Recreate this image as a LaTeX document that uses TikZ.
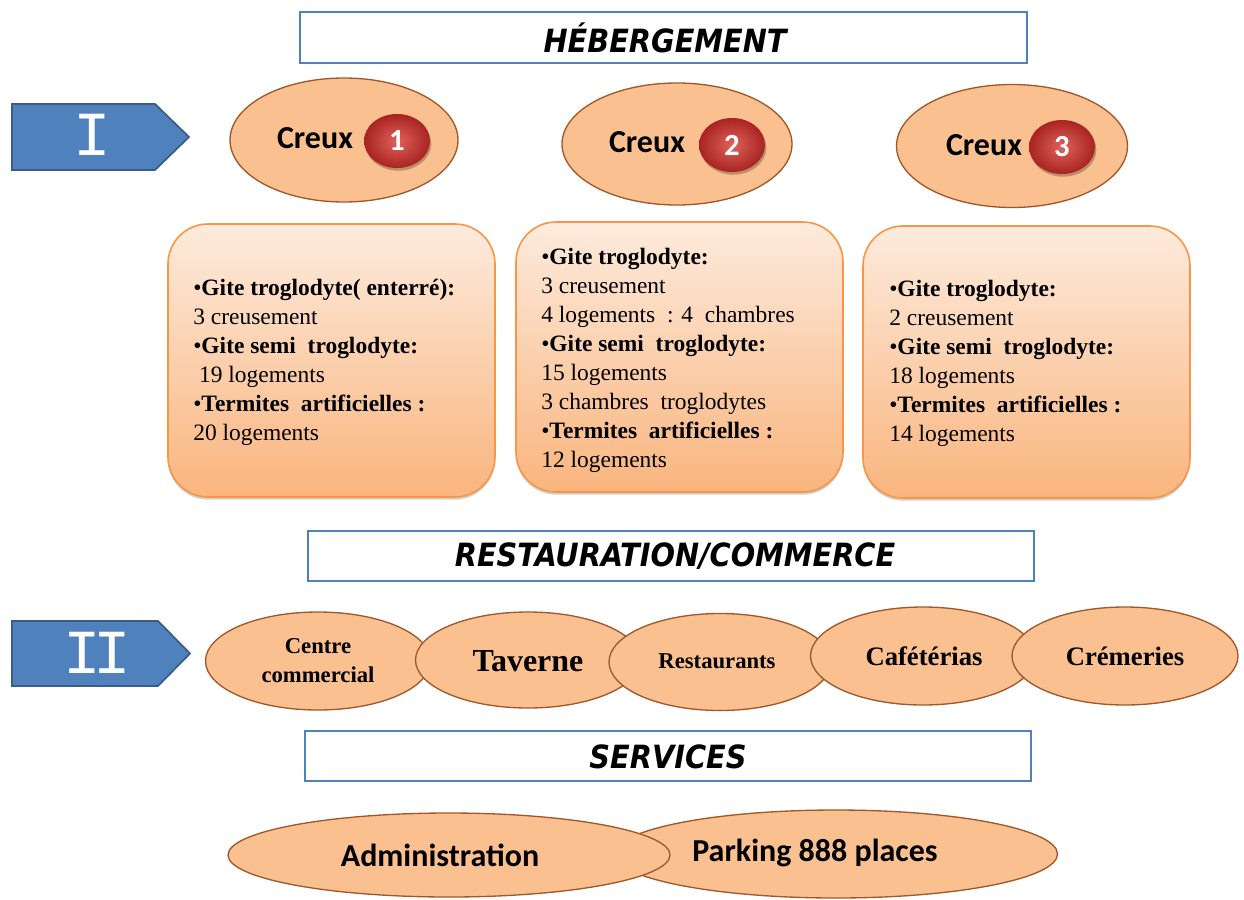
\documentclass[tikz,border=0pt]{standalone}
\usepackage{fontspec}
\setmainfont{Liberation Serif}
\newfontfamily\calib{Carlito}
\newfontfamily\headfont{DejaVu Sans Condensed}
\newfontfamily\romfont{Liberation Mono}
\usetikzlibrary{shapes.geometric,shadows}
\definecolor{hdrblue}{HTML}{4F81BD}
\definecolor{arrowedge}{HTML}{385D8A}
\definecolor{ellfill}{HTML}{FAC090}
\definecolor{elledge}{HTML}{A0582A}
\definecolor{boxtop}{HTML}{FDEBDD}
\definecolor{boxbot}{HTML}{F9B57E}
\definecolor{boxedge}{HTML}{F79646}
\definecolor{ballin}{HTML}{E0625A}
\definecolor{ballout}{HTML}{A82422}
\begin{document}
\begin{tikzpicture}[x=0.75pt,y=-0.75pt,
  sz/.style 2 args={minimum width={#1*0.75pt},minimum height={#2*0.75pt}},
  hdr/.style={draw=hdrblue,line width=1.8pt,fill=white,rectangle,inner sep=0pt},
  hdrtext/.style={font=\headfont\bfseries\itshape\fontsize{24}{28}\selectfont},
  arrowshape/.style={fill=hdrblue,draw=arrowedge,line width=1.3pt},
  romlabel/.style={text=white,font=\romfont\fontsize{47}{50}\selectfont,inner sep=0pt},
  ell/.style={ellipse,fill=ellfill,draw=elledge,line width=1pt,inner sep=0pt},
  infobox/.style={rectangle,rounded corners=30pt,top color=boxtop,bottom color=boxbot,draw=boxedge,line width=1.2pt,
    drop shadow={shadow xshift=0pt,shadow yshift=-2pt,opacity=0.18,fill=black}},
  infotext/.style={align=left,inner sep=0pt,anchor=west,font=\fontsize{17.6}{21.75}\selectfont},
  ball/.style={ellipse,inner color=ballin,outer color=ballout,inner sep=0pt,text=white,
    font=\calib\bfseries\fontsize{23}{24}\selectfont,
    drop shadow={shadow xshift=1pt,shadow yshift=-2pt,opacity=0.25,fill=black}},
  creux/.style={font=\calib\bfseries\fontsize{24}{26}\selectfont},
  cal/.style={font=\calib\bfseries\fontsize{24}{26}\selectfont},
  tnr/.style={font=\bfseries\fontsize{#1}{21.75}\selectfont,align=center},
]
\useasboundingbox (0,0) rectangle (1244,899);

% ---------- HEBERGEMENT ----------
\node[hdr,sz={727}{51}] (h1) at (663.5,37.5) {};
\node[hdrtext] (h1t) at (665,38) {HÉBERGEMENT};

\draw[arrowshape] (12,104) -- (155,104) -- (189,137) -- (155,170) -- (12,170) -- cycle;
\node[romlabel] (r1) at (92,135) {I};

\node[ell,sz={228}{124}] (c1) at (344,140) {};
\node[ell,sz={230}{122}] (c2) at (677,144) {};
\node[ell,sz={231}{123}] (c3) at (1012,146) {};
\node[creux] (c1t) at (315,138) {Creux};
\node[creux] (c2t) at (647,142) {Creux};
\node[creux] (c3t) at (984,145) {Creux};
\node[ball,sz={66}{54}] (b1) at (397,141) {1};
\node[ball,sz={66}{54}] (b2) at (732,145) {2};
\node[ball,sz={66}{54}] (b3) at (1062,147) {3};

\node[infobox,sz={327}{273}] (x1) at (331.5,360.5) {};
\node[infobox,sz={327}{270}] (x2) at (679.5,357) {};
\node[infobox,sz={327}{272}] (x3) at (1026.5,362) {};

\node[infotext] (x1t) at (193,362) {%
•\textbf{Gite troglodyte( enterré):}\\
3 creusement\\
•\textbf{Gite semi\ \ troglodyte:}\\
\ 19 logements\\
•\textbf{Termites\ \ artificielles :}\\
20 logements};
\node[infotext] (x2t) at (541,360) {%
•\textbf{Gite troglodyte:}\\
3 creusement\\
4 logements\ \ : 4\ \ chambres\\
•\textbf{Gite semi\ \ troglodyte:}\\
15 logements\\
3 chambres\ \ troglodytes\\
•\textbf{Termites\ \ artificielles :}\\
12 logements};
\node[infotext] (x3t) at (889,363) {%
•\textbf{Gite troglodyte:}\\
2 creusement\\
•\textbf{Gite semi\ \ troglodyte:}\\
18 logements\\
•\textbf{Termites\ \ artificielles :}\\
14 logements};

% ---------- RESTAURATION ----------
\node[hdr,sz={726}{50}] (h2) at (671,556) {};
\node[hdrtext] (h2t) at (675,556) {RESTAURATION/COMMERCE};

\draw[arrowshape] (12,621) -- (158,621) -- (190,653.5) -- (158,686) -- (12,686) -- cycle;
\node[romlabel] (r2) at (97,653) {I\kern-6pt I};

\node[ell,sz={225}{98}] (e1) at (318,661) {};
\node[tnr=17] (e1t) at (318,661) {Centre\\commercial};
\node[ell,sz={225}{96}] (e2) at (528,660) {};
\node[tnr=24] (e2t) at (528,661) {Taverne};
\node[ell,sz={222}{97}] (e3) at (720,662) {};
\node[tnr=17] (e3t) at (717,661) {Restaurants};
\node[ell,sz={225}{98}] (e4) at (923,656) {};
\node[tnr=20] (e4t) at (924,656) {Cafétérias};
\node[ell,sz={226}{98}] (e5) at (1125,656) {};
\node[tnr=20] (e5t) at (1125,656) {Crémeries};

% ---------- SERVICES ----------
\node[hdr,sz={726}{50}] (h3) at (668,756) {};
\node[hdrtext] (h3t) at (668,757) {SERVICES};

\node[ell,sz={443}{88}] (s2) at (836,854) {};
\node[ell,sz={442}{84}] (s1) at (449,855) {};
\node[cal] (s1t) at (440,855) {Administration};
\node[cal] (s2t) at (815,853) {Parking 888 places};
\end{tikzpicture}
\end{document}
